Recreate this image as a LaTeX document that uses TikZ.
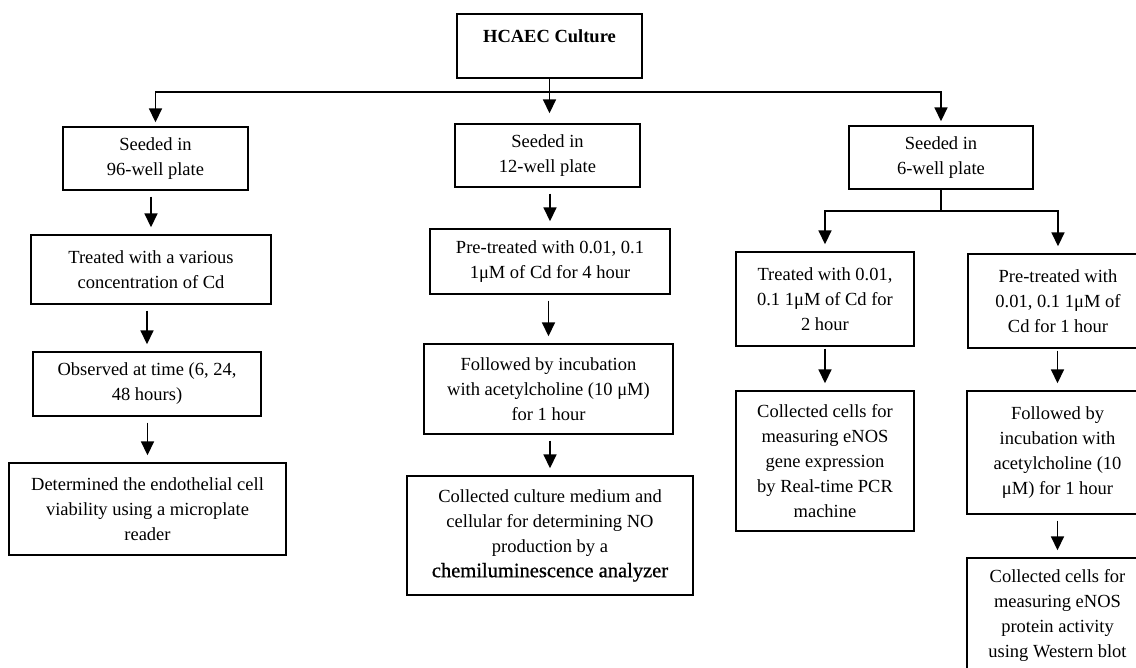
\documentclass[tikz,border=0pt]{standalone}
\usepackage{fontspec}
\setmainfont{Liberation Serif}
\newfontfamily\heavyfont[FakeBold=0.8]{Liberation Serif}
\usetikzlibrary{arrows.meta}
\tikzset{
  x=1pt, y=-1pt,
  box/.style={draw=black, line width=1.4pt, inner sep=0pt, align=center,
    font=\fontsize{18.5}{25}\selectfont},
  conn/.style={line width=1.7pt, draw=black},
  arr/.style={conn, -{Triangle[width=13pt,length=14pt]}, shorten <=6pt, shorten >=7pt},
}
\begin{document}
\begin{tikzpicture}
\useasboundingbox (0,0) rectangle (1136,668);
\clip (0,0) rectangle (1136,668);
\fill[white] (0,0) rectangle (1136,668);
% top
\node[box, minimum width=185pt, minimum height=64pt, font=\fontsize{18.5}{25}\selectfont\bfseries] (hc) at (549.5,46) {HCAEC Culture\\[-12pt] \strut};
% seeded boxes
\node[box, minimum width=185pt, minimum height=63pt] (s96) at (155.5,158.5) {Seeded in\\96-well plate};
\node[box, minimum width=185pt, minimum height=63pt] (s12) at (547.5,155.5) {Seeded in\\12-well plate};
\node[box, minimum width=184pt, minimum height=63pt] (s6) at (941,157.5) {Seeded in\\6-well plate};
% left column
\node[box, minimum width=240pt, minimum height=69pt] (t96) at (151,269.5) {Treated with a various\\concentration of Cd};
\node[box, minimum width=228pt, minimum height=64pt] (o96) at (147,384) {Observed at time (6, 24,\\48 hours)};
\node[box, minimum width=277pt, minimum height=92pt] (d96) at (147.5,509) {Determined the endothelial cell\\viability using a microplate\\reader};
% middle column
\node[box, minimum width=240pt, minimum height=65pt] (p12) at (550,261.5) {Pre-treated with 0.01, 0.1\\1μM of Cd for 4 hour};
\node[box, minimum width=249pt, minimum height=90pt] (f12) at (548.5,389) {Followed by incubation\\with acetylcholine (10 μM)\\for 1 hour};
\node[box, minimum width=286pt, minimum height=119pt] (c12) at (550,535.5) {Collected culture medium and\\cellular for determining NO\\production by a\\{\heavyfont\fontsize{20.5}{25}\selectfont chemiluminescence analyzer}};
% right column, left branch
\node[box, minimum width=178pt, minimum height=94pt] (tA) at (825,299) {Treated with 0.01,\\0.1 1μM of Cd for\\2 hour};
\node[box, minimum width=178pt, minimum height=140pt] (cA) at (825,461) {Collected cells for\\measuring eNOS\\gene expression\\by Real-time PCR\\machine};
% right column, right branch
\node[box, minimum width=180pt, minimum height=94pt] (pB) at (1058,301) {Pre-treated with\\0.01, 0.1 1μM of\\Cd for 1 hour};
\node[box, minimum width=181pt, minimum height=123pt] (fB) at (1057.5,452.5) {Followed by\\incubation with\\acetylcholine (10\\μM) for 1 hour};
\node[box, minimum width=181pt, minimum height=114pt] (cB) at (1057.5,615) {Collected cells for\\measuring eNOS\\protein activity\\using Western blot};
% connectors from top
\coordinate (bus) at (549.5,92);
\draw[arr, shorten <=0pt, shorten >=10pt] (hc.south) -- (hc.south |- s12.north);
\draw[arr, shorten <=0pt, shorten >=4pt] (bus) -| (s96.north);
\draw[arr, shorten <=0pt, shorten >=4pt] (bus) -| (s6.north);
% left column
\draw[arr] (s96.south -| t96.north) -- (t96.north);
\draw[arr] (t96.south -| o96.north) -- (o96.north);
\draw[arr] (o96.south -| d96.north) -- (d96.north);
% middle column
\draw[arr] (s12.south -| p12.north) -- (p12.north);
\draw[arr] (p12.south -| f12.north) -- (f12.north);
\draw[arr] (f12.south -| c12.north) -- (c12.north);
% right split
\coordinate (sub) at (941,211);
\draw[conn] (s6.south) -- (sub);
\draw[arr, shorten <=0pt] (sub) -| (tA.north);
\draw[arr, shorten <=0pt] (sub) -| (pB.north);
\draw[arr, shorten <=2pt] (tA.south) -- (cA.north);
\draw[arr, shorten <=2pt] (pB.south -| fB.north) -- (fB.north);
\draw[arr] (fB.south) -- (cB.north);
\end{tikzpicture}
\end{document}
